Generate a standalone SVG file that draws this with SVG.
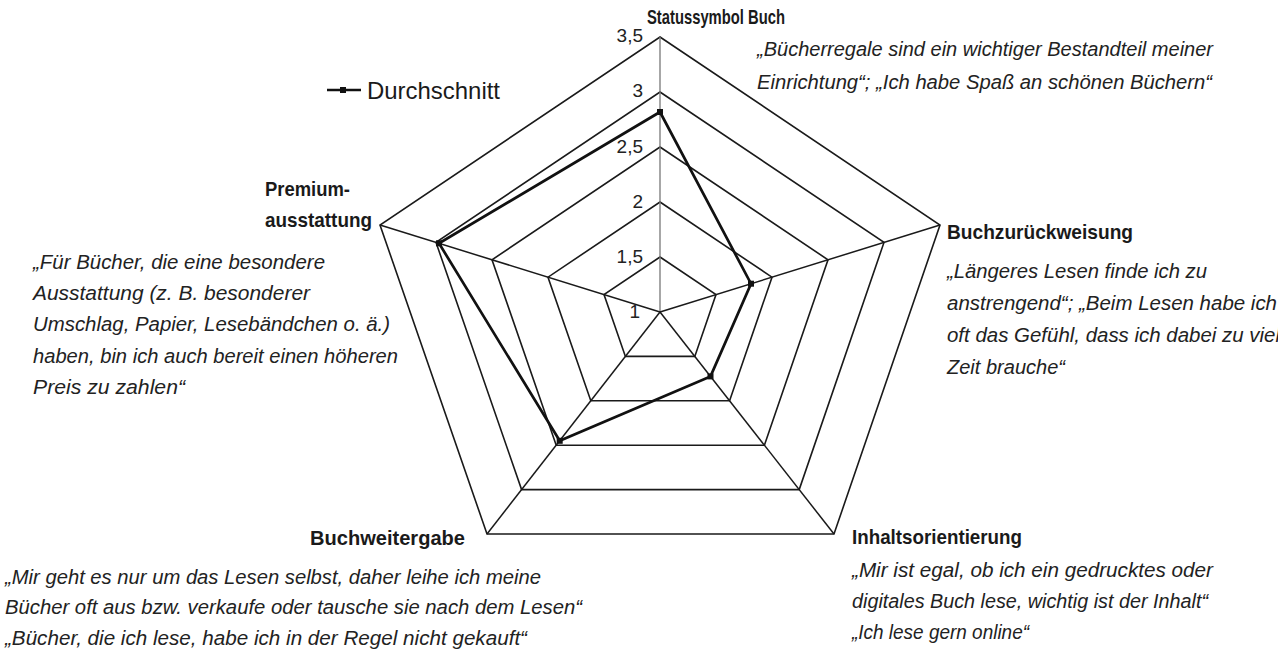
<svg xmlns="http://www.w3.org/2000/svg" width="1278" height="657" viewBox="0 0 1278 657">
  <style>
    .grid { fill: none; stroke: #1a1a1a; stroke-width: 1.6; stroke-linejoin: miter; }
    .spoke { stroke: #1a1a1a; stroke-width: 1.5; }
    .spoke-top { stroke: #777; stroke-width: 1.3; }
    .series { fill: none; stroke: #111; stroke-width: 2.7; stroke-linejoin: miter; }
    .pt { fill: #111; }
    .tick { font-family: "Liberation Sans", Arial, sans-serif; font-size: 19px; fill: #222; text-anchor: end; }
    .cat { font-family: "Liberation Sans Narrow", "Liberation Sans", Arial, sans-serif; font-size: 21px; font-weight: bold; fill: #1a1a1a; }
    .quote { font-family: "Liberation Sans", Arial, sans-serif; font-size: 20px; font-style: italic; fill: #222; }
    .legend { font-family: "Liberation Sans", Arial, sans-serif; font-size: 24px; fill: #1a1a1a; }
  </style>
  <rect width="1278" height="657" fill="#ffffff"/>

  <!-- concentric pentagon rings: values 1.5, 2, 2.5, 3, 3.5 -->
  <g id="grid">
    <polygon class="grid" points="660,257 716,294.6 694.8,356.4 625.4,356.4 604,294.6"/>
    <polygon class="grid" points="660,202 772,277.2 729.6,400.8 590.8,400.8 548,277.2"/>
    <polygon class="grid" points="660,147 828,259.8 764.4,445.2 556.2,445.2 492,259.8"/>
    <polygon class="grid" points="660,92 884,242.4 799.2,489.6 521.6,489.6 436,242.4"/>
    <polygon class="grid" points="660,37 940,225 834,534 487,534 380,225"/>
  </g>

  <!-- axes from the centre to each outer corner -->
  <g id="axes">
    <line class="spoke-top" x1="660" y1="312" x2="660" y2="37"/>
    <line class="spoke" x1="660" y1="312" x2="940" y2="225"/>
    <line class="spoke" x1="660" y1="312" x2="834" y2="534"/>
    <line class="spoke" x1="660" y1="312" x2="487" y2="534"/>
    <line class="spoke" x1="660" y1="312" x2="380" y2="225"/>
  </g>

  <!-- scale values along the top axis -->
  <g id="scale">
    <text class="tick" x="643" y="42">3,5</text>
    <text class="tick" x="643" y="97">3</text>
    <text class="tick" x="643" y="153">2,5</text>
    <text class="tick" x="643" y="208">2</text>
    <text class="tick" x="643" y="263">1,5</text>
    <text class="tick" x="640" y="318">1</text>
  </g>

  <!-- average series -->
  <g id="series-durchschnitt">
    <polygon class="series" points="660,112 751,283.7 710.5,376.4 559.7,440.8 439,243.3"/>
    <rect class="pt" x="657" y="109" width="6" height="6"/>
    <rect class="pt" x="748" y="280.7" width="6" height="6"/>
    <rect class="pt" x="707.5" y="373.4" width="6" height="6"/>
    <rect class="pt" x="556.7" y="437.8" width="6" height="6"/>
    <rect class="pt" x="436" y="240.3" width="6" height="6"/>
  </g>

  <!-- legend -->
  <g id="legend">
    <line x1="327" y1="90" x2="361" y2="90" stroke="#111" stroke-width="2.6"/>
    <rect class="pt" x="340" y="87" width="6" height="6"/>
    <text class="legend" x="367" y="99" textLength="133" lengthAdjust="spacingAndGlyphs">Durchschnitt</text>
  </g>

  <!-- axis: Statussymbol Buch -->
  <g id="label-statussymbol">
    <text class="cat" x="647" y="24" textLength="138" lengthAdjust="spacingAndGlyphs">Statussymbol Buch</text>
    <text class="quote" x="757" y="56" textLength="456" lengthAdjust="spacingAndGlyphs">„Bücherregale sind ein wichtiger Bestandteil meiner</text>
    <text class="quote" x="757" y="89" textLength="455" lengthAdjust="spacingAndGlyphs">Einrichtung“; „Ich habe Spaß an schönen Büchern“</text>
  </g>

  <!-- axis: Buchzurückweisung -->
  <g id="label-buchzurueckweisung">
    <text class="cat" x="947" y="239" textLength="186" lengthAdjust="spacingAndGlyphs">Buchzurückweisung</text>
    <text class="quote" x="947" y="278" textLength="260" lengthAdjust="spacingAndGlyphs">„Längeres Lesen finde ich zu</text>
    <text class="quote" x="947" y="310" textLength="330" lengthAdjust="spacingAndGlyphs">anstrengend“; „Beim Lesen habe ich</text>
    <text class="quote" x="947" y="342" textLength="333" lengthAdjust="spacingAndGlyphs">oft das Gefühl, dass ich dabei zu viel</text>
    <text class="quote" x="947" y="374" textLength="118" lengthAdjust="spacingAndGlyphs">Zeit brauche“</text>
  </g>

  <!-- axis: Inhaltsorientierung -->
  <g id="label-inhaltsorientierung">
    <text class="cat" x="852" y="544" textLength="170" lengthAdjust="spacingAndGlyphs">Inhaltsorientierung</text>
    <text class="quote" x="852" y="577" textLength="361" lengthAdjust="spacingAndGlyphs">„Mir ist egal, ob ich ein gedrucktes oder</text>
    <text class="quote" x="852" y="608" textLength="356" lengthAdjust="spacingAndGlyphs">digitales Buch lese, wichtig ist der Inhalt“</text>
    <text class="quote" x="852" y="639" textLength="177" lengthAdjust="spacingAndGlyphs">„Ich lese gern online“</text>
  </g>

  <!-- axis: Buchweitergabe -->
  <g id="label-buchweitergabe">
    <text class="cat" x="310" y="545" textLength="155" lengthAdjust="spacingAndGlyphs">Buchweitergabe</text>
    <text class="quote" x="5" y="584" textLength="536" lengthAdjust="spacingAndGlyphs">„Mir geht es nur um das Lesen selbst, daher leihe ich meine</text>
    <text class="quote" x="5" y="614" textLength="577" lengthAdjust="spacingAndGlyphs">Bücher oft aus bzw. verkaufe oder tausche sie nach dem Lesen“</text>
    <text class="quote" x="5" y="645" textLength="522" lengthAdjust="spacingAndGlyphs">„Bücher, die ich lese, habe ich in der Regel nicht gekauft“</text>
  </g>

  <!-- axis: Premiumausstattung -->
  <g id="label-premiumausstattung">
    <text class="cat" x="265" y="196" textLength="85" lengthAdjust="spacingAndGlyphs">Premium-</text>
    <text class="cat" x="265" y="227" textLength="107" lengthAdjust="spacingAndGlyphs">ausstattung</text>
    <text class="quote" x="33" y="269" textLength="292" lengthAdjust="spacingAndGlyphs">„Für Bücher, die eine besondere</text>
    <text class="quote" x="33" y="300" textLength="277" lengthAdjust="spacingAndGlyphs">Ausstattung (z. B. besonderer</text>
    <text class="quote" x="33" y="331" textLength="357" lengthAdjust="spacingAndGlyphs">Umschlag, Papier, Lesebändchen o. ä.)</text>
    <text class="quote" x="33" y="363" textLength="365" lengthAdjust="spacingAndGlyphs">haben, bin ich auch bereit einen höheren</text>
    <text class="quote" x="33" y="394" textLength="152" lengthAdjust="spacingAndGlyphs">Preis zu zahlen“</text>
  </g>
</svg>
